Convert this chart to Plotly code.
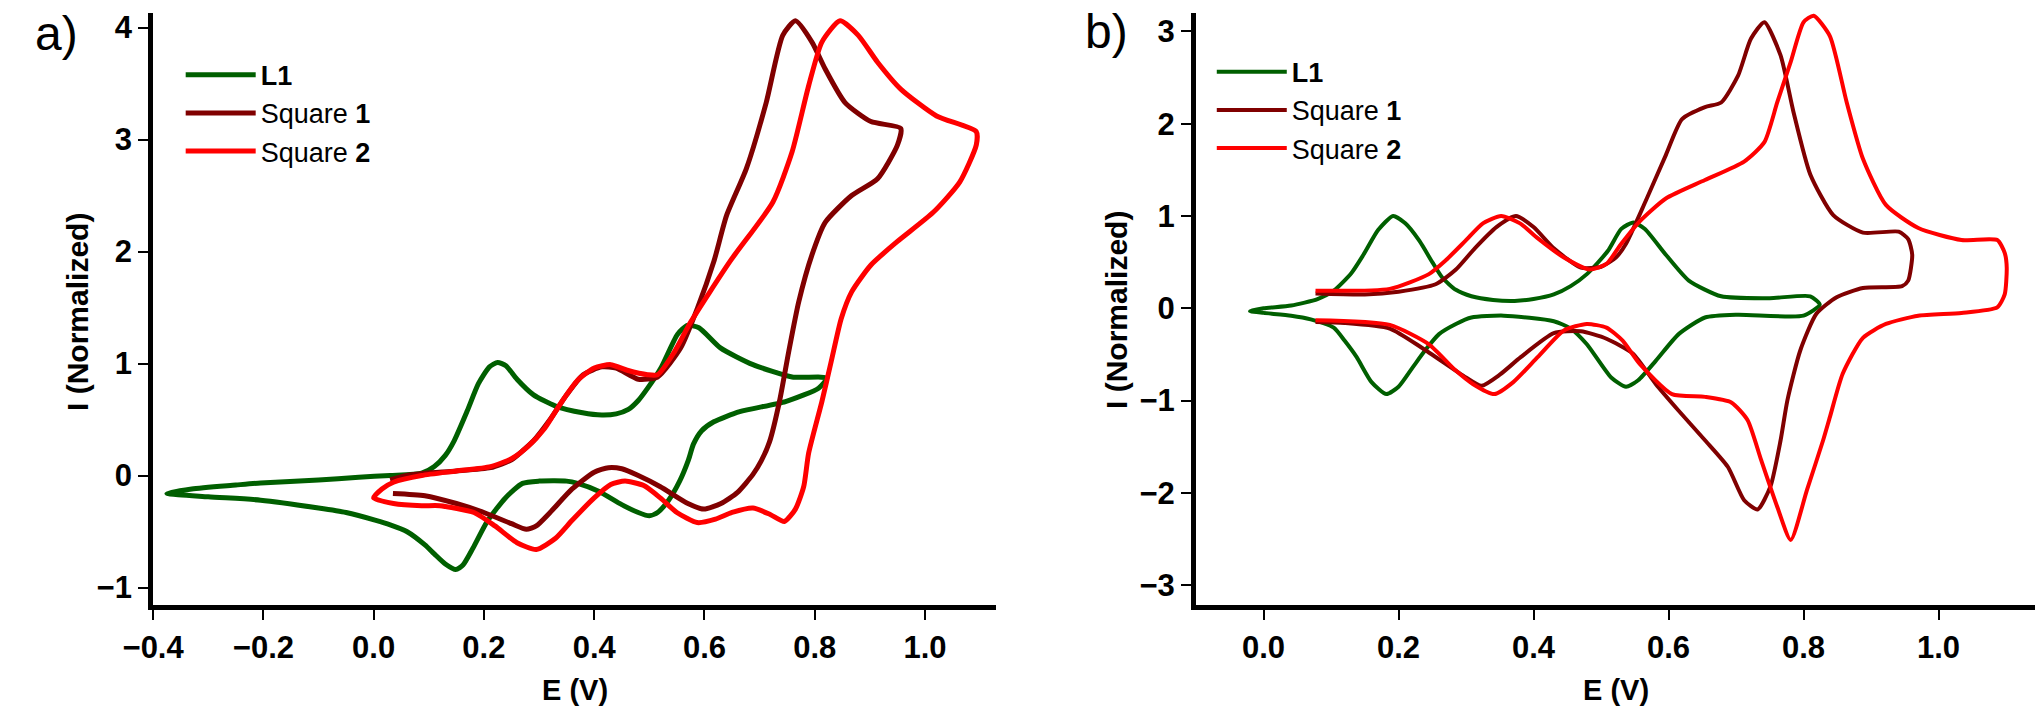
import plotly.graph_objects as go

# %% panel a) values, E (V) and normalized current
a_l1_e = [-0.375, -0.33, -0.25, -0.205, -0.1, -0.027, 0.03, 0.087, 0.11, 0.13, 0.146, 0.17, 0.19, 0.21, 0.225,
          0.24, 0.26, 0.29, 0.33, 0.379, 0.414, 0.44, 0.462, 0.48, 0.497, 0.521, 0.551, 0.569, 0.59, 0.629,
          0.688, 0.759, 0.822,
          0.807, 0.747, 0.664, 0.617, 0.595, 0.58, 0.571, 0.555, 0.535, 0.515, 0.5, 0.48, 0.45, 0.408, 0.37,
          0.35, 0.3, 0.27, 0.239, 0.206, 0.18, 0.162, 0.149, 0.13, 0.11, 0.093, 0.06, 0.03, 0.004, -0.05,
          -0.1, -0.205, -0.3, -0.375]
a_l1_i = [-0.16, -0.12, -0.085, -0.066, -0.04, -0.015, 0.0, 0.02, 0.08, 0.18, 0.31, 0.58, 0.82, 0.97, 1.01,
          0.98, 0.86, 0.72, 0.62, 0.56, 0.54, 0.55, 0.59, 0.67, 0.78, 0.96, 1.26, 1.34, 1.32, 1.14,
          0.99, 0.88, 0.87,
          0.78, 0.66, 0.57, 0.48, 0.40, 0.28, 0.14, -0.05, -0.22, -0.33, -0.36, -0.33, -0.26, -0.14, -0.07,
          -0.05, -0.05, -0.07, -0.2, -0.41, -0.65, -0.8, -0.84, -0.79, -0.7, -0.62, -0.5, -0.44, -0.40, -0.33,
          -0.29, -0.22, -0.19, -0.16]

a_sq1_e = [0.03, 0.06, 0.093, 0.15, 0.212, 0.25, 0.27, 0.29, 0.32, 0.35, 0.38, 0.414, 0.44, 0.48, 0.515,
           0.557, 0.587, 0.617, 0.64, 0.676, 0.712, 0.742, 0.765, 0.795, 0.819, 0.855, 0.902, 0.956,
           0.95, 0.914, 0.867, 0.819, 0.795, 0.771, 0.753, 0.736, 0.718, 0.703, 0.688, 0.66, 0.63, 0.599,
           0.57, 0.52, 0.48, 0.45, 0.426, 0.4, 0.36, 0.32, 0.295, 0.277, 0.25, 0.2, 0.15, 0.093, 0.035]
a_sq1_i = [-0.04, 0.0, 0.02, 0.04, 0.07, 0.14, 0.22, 0.31, 0.5, 0.72, 0.9, 0.97, 0.96, 0.86, 0.88,
           1.14, 1.49, 1.91, 2.32, 2.74, 3.33, 3.93, 4.06, 3.87, 3.63, 3.33, 3.16, 3.10,
           2.95, 2.65, 2.50, 2.26, 1.97, 1.55, 1.11, 0.66, 0.3, 0.13, 0.01, -0.15, -0.25, -0.30,
           -0.25, -0.10, 0.0, 0.06, 0.07, 0.03, -0.12, -0.33, -0.45, -0.48, -0.43, -0.33, -0.25, -0.18, -0.16]

a_sq2_e = [0.0, 0.015, 0.036, 0.087, 0.15, 0.212, 0.25, 0.28, 0.31, 0.34, 0.37, 0.4, 0.43, 0.46, 0.497,
           0.515, 0.545, 0.575, 0.646, 0.724, 0.759, 0.789, 0.813, 0.846, 0.879, 0.914, 0.956, 1.021, 1.093,
           1.093, 1.063, 1.015, 0.95, 0.902, 0.867, 0.848, 0.83, 0.813, 0.789, 0.78, 0.765, 0.745, 0.72,
           0.688, 0.65, 0.62, 0.587, 0.55, 0.52, 0.49, 0.456, 0.43, 0.4, 0.36, 0.33, 0.295, 0.26, 0.22,
           0.182, 0.12, 0.087, 0.036, 0.0]
a_sq2_i = [-0.2, -0.12, -0.06, 0.0, 0.04, 0.08, 0.15, 0.26, 0.42, 0.65, 0.85, 0.96, 0.99, 0.94, 0.9,
           0.9, 1.1, 1.37, 1.91, 2.44, 2.89, 3.48, 3.87, 4.06, 3.93, 3.69, 3.45, 3.21, 3.07,
           2.95, 2.62, 2.35, 2.09, 1.88, 1.64, 1.40, 1.02, 0.66, 0.2, -0.1, -0.3, -0.41, -0.35,
           -0.29, -0.33, -0.39, -0.42, -0.33, -0.2, -0.09, -0.05, -0.08, -0.2, -0.4, -0.56, -0.66, -0.6, -0.45,
           -0.33, -0.27, -0.27, -0.25, -0.2]

# %% panel b) values
b_l1_e = [-0.02, 0.0, 0.041, 0.08, 0.104, 0.13, 0.148, 0.17, 0.192, 0.21, 0.231, 0.25, 0.265, 0.285, 0.308,
          0.34, 0.372, 0.4, 0.43, 0.455, 0.479, 0.51, 0.53, 0.548, 0.565, 0.596, 0.63, 0.678, 0.75, 0.81, 0.824,
          0.8, 0.702, 0.654, 0.615, 0.581, 0.555, 0.537, 0.515, 0.479, 0.455, 0.43, 0.356, 0.308, 0.285,
          0.26, 0.24, 0.221, 0.2, 0.182, 0.16, 0.138, 0.12, 0.104, 0.07, 0.041, 0.0, -0.02]
b_l1_i = [-0.03, 0.0, 0.03, 0.1, 0.19, 0.38, 0.58, 0.85, 1.0, 0.92, 0.73, 0.5, 0.33, 0.2, 0.13,
          0.09, 0.08, 0.1, 0.15, 0.24, 0.37, 0.62, 0.86, 0.93, 0.86, 0.58, 0.30, 0.13, 0.11, 0.13, 0.04,
          -0.08, -0.07, -0.10, -0.28, -0.57, -0.78, -0.85, -0.75, -0.39, -0.22, -0.14, -0.08, -0.10, -0.17,
          -0.28, -0.45, -0.64, -0.85, -0.93, -0.8, -0.53, -0.35, -0.21, -0.12, -0.08, -0.05, -0.03]

b_sq1_e = [0.077, 0.15, 0.2, 0.255, 0.285, 0.313, 0.345, 0.374, 0.4, 0.43, 0.47, 0.5, 0.522, 0.537,
           0.566, 0.596, 0.62, 0.654, 0.678, 0.703, 0.722, 0.742, 0.766, 0.785, 0.81, 0.844, 0.888, 0.941,
           0.955, 0.961,
           0.955, 0.946, 0.888, 0.849, 0.819, 0.795, 0.776, 0.766, 0.751, 0.732, 0.712, 0.688, 0.654, 0.615,
           0.581, 0.547, 0.508, 0.47, 0.43, 0.381, 0.35, 0.323, 0.3, 0.235, 0.187, 0.12, 0.077]
b_sq1_i = [0.16, 0.15, 0.18, 0.26, 0.42, 0.65, 0.88, 1.0, 0.88, 0.65, 0.44, 0.45, 0.55, 0.7,
           1.16, 1.66, 2.05, 2.18, 2.23, 2.52, 2.92, 3.10, 2.74, 2.13, 1.45, 1.01, 0.82, 0.83,
           0.75, 0.58,
           0.3, 0.24, 0.22, 0.12, -0.06, -0.46, -1.0, -1.43, -1.93, -2.18, -2.08, -1.72, -1.43, -1.11,
           -0.82, -0.49, -0.33, -0.25, -0.27, -0.53, -0.72, -0.84, -0.75, -0.43, -0.22, -0.16, -0.15]

b_sq2_e = [0.077, 0.187, 0.245, 0.27, 0.299, 0.325, 0.352, 0.38, 0.406, 0.445, 0.483, 0.508, 0.53, 0.557,
           0.596, 0.654, 0.712, 0.742, 0.761, 0.781, 0.8, 0.815, 0.839, 0.864, 0.888, 0.922, 0.97, 1.034,
           1.087, 1.098, 1.101,
           1.098, 1.087, 1.034, 0.97, 0.922, 0.888, 0.858, 0.839, 0.829, 0.805, 0.781, 0.761, 0.737, 0.717,
           0.693, 0.654, 0.605, 0.557, 0.532, 0.508, 0.479, 0.445, 0.406, 0.37, 0.342, 0.31, 0.284, 0.245,
           0.187, 0.077]
b_sq2_i = [0.19, 0.21, 0.37, 0.52, 0.73, 0.92, 1.0, 0.92, 0.76, 0.55, 0.42, 0.48, 0.7, 0.94,
           1.19, 1.39, 1.59, 1.80, 2.23, 2.67, 3.10, 3.17, 2.95, 2.23, 1.62, 1.12, 0.87, 0.74,
           0.74, 0.6, 0.44,
           0.15, 0.01, -0.05, -0.08, -0.17, -0.32, -0.71, -1.18, -1.43, -1.97, -2.51, -2.15, -1.64, -1.21,
           -1.02, -0.96, -0.93, -0.60, -0.35, -0.21, -0.17, -0.24, -0.53, -0.8, -0.93, -0.82, -0.67, -0.39,
           -0.18, -0.13]

names = ["<b>L1</b>", "Square <b>1</b>", "Square <b>2</b>"]
colors = ["#005f00", "#800000", "#ff0000"]

FONT = "Arial, Liberation Sans, sans-serif"
W, H = 2040, 709


def px(x):
    return x / W


def py(y):
    # pixel row from the top -> paper fraction
    return 1 - y / H


# %%
fig = go.Figure()

panel_a = [(a_l1_e, a_l1_i), (a_sq1_e, a_sq1_i), (a_sq2_e, a_sq2_i)]
panel_b = [(b_l1_e, b_l1_i), (b_sq1_e, b_sq1_i), (b_sq2_e, b_sq2_i)]

for (e, i), name, color in zip(panel_a, names, colors):
    fig.add_trace(go.Scatter(
        x=e, y=i, name=name, mode="lines",
        line=dict(color=color, width=5, shape="spline", smoothing=0.6),
        xaxis="x", yaxis="y", legend="legend",
    ))

for (e, i), name, color in zip(panel_b, names, colors):
    fig.add_trace(go.Scatter(
        x=e, y=i, name=name, mode="lines",
        line=dict(color=color, width=4, shape="spline", smoothing=0.6),
        xaxis="x2", yaxis="y2", legend="legend2",
    ))

axis_common = dict(
    showline=True, linewidth=5, linecolor="black",
    ticks="outside", ticklen=10, tickwidth=2, tickcolor="black",
    showgrid=False, zeroline=False,
    tickfont=dict(family=FONT, size=31, color="black", weight="bold"),
)
ydom = [py(605), py(10)]
legend_common = dict(
    xanchor="left", yanchor="top",
    font=dict(family=FONT, size=27, color="black"), bgcolor="rgba(0,0,0,0)",
    itemwidth=70, tracegroupgap=0,
)

fig.update_layout(
    width=W, height=H,
    margin=dict(l=0, r=0, t=0, b=0),
    plot_bgcolor="white", paper_bgcolor="white",
    xaxis=dict(domain=[px(124), px(980)], range=[-0.4, 1.129], dtick=0.2, tick0=0,
               tickformat=".1f", anchor="y", **axis_common),
    yaxis=dict(domain=ydom, range=[-1.16, 4.13], dtick=1, anchor="x", **axis_common),
    xaxis2=dict(domain=[px(1183), px(2035)], range=[-0.1, 1.143], dtick=0.2, tick0=0,
                tickformat=".1f", anchor="y2", **axis_common),
    yaxis2=dict(domain=ydom, range=[-3.22, 3.2], dtick=1, anchor="x2", **axis_common),
    legend=dict(x=px(152), y=py(48), **legend_common),
    legend2=dict(x=px(1199), y=py(45), **legend_common),
)

annotations = [
    dict(text="a)", x=px(2), y=py(2), xanchor="left", yanchor="top", font=dict(size=48)),
    dict(text="b)", x=px(1068), y=py(0), xanchor="left", yanchor="top", font=dict(size=48)),
    dict(text="<b>I (Normalized)</b>", x=px(47), y=py(310), textangle=-90, font=dict(size=30)),
    dict(text="<b>I (Normalized)</b>", x=px(1102), y=py(308), textangle=-90, font=dict(size=30)),
    dict(text="<b>E (V)</b>", x=px(552), y=py(708), yanchor="bottom", font=dict(size=29)),
    dict(text="<b>E (V)</b>", x=px(1609), y=py(708), yanchor="bottom", font=dict(size=29)),
]
for a in annotations:
    a.update(xref="paper", yref="paper", showarrow=False)
    a["font"].update(family=FONT, color="black")
    a.setdefault("xanchor", "center")
    a.setdefault("yanchor", "middle")
fig.update_layout(annotations=annotations)

# the page's default 8px body margin would push the bottom of the figure out of the window
fig.write_html("out.html", config={"displayModeBar": False},
               post_script="document.body.style.margin = '0';")
